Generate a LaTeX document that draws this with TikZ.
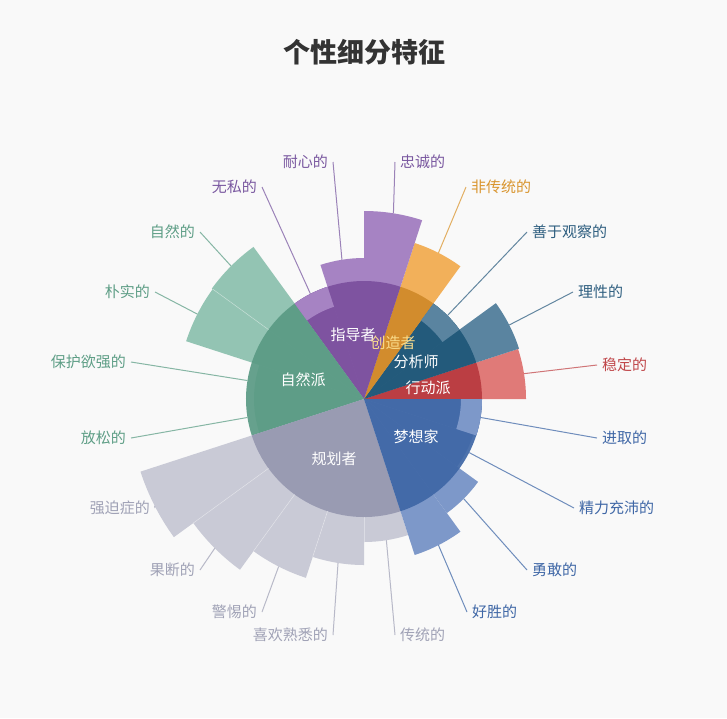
\documentclass[tikz,border=0pt]{standalone}
\usepackage{fontspec}
\usetikzlibrary{calc}
\setmainfont{Noto Sans CJK SC}
\begin{document}
\begin{tikzpicture}[x=1pt,y=-1pt,
  lab/.style={font=\fontsize{15}{15}\selectfont,inner sep=0pt},
  inlab/.style={font=\fontsize{15}{15}\selectfont,text=white,inner sep=0pt}]
\definecolor{bg}{HTML}{F9F9F9}
\definecolor{gP}{HTML}{5A9A84}\definecolor{gL}{HTML}{93C4B3}\definecolor{gT}{HTML}{5E9E86}
\definecolor{pP}{HTML}{7B4F9E}\definecolor{pL}{HTML}{A683C3}\definecolor{pT}{HTML}{7A58A0}
\definecolor{oP}{HTML}{D08A2A}\definecolor{oL}{HTML}{F2B05A}\definecolor{oT}{HTML}{D9952E}
\definecolor{tP}{HTML}{1F5778}\definecolor{tL}{HTML}{5A84A0}\definecolor{tT}{HTML}{2F5F80}
\definecolor{rP}{HTML}{B8393F}\definecolor{rL}{HTML}{E07A78}\definecolor{rT}{HTML}{C0474A}
\definecolor{bP}{HTML}{3F67A6}\definecolor{bL}{HTML}{7D98C9}\definecolor{bT}{HTML}{3F67A6}
\definecolor{sP}{HTML}{9597B0}\definecolor{sL}{HTML}{C9CAD6}\definecolor{sT}{HTML}{A0A2B6}
\fill[bg] (0,0) rectangle (727,718);
\useasboundingbox (0,0) rectangle (727,718);
\node[font=\bfseries\fontsize{27}{27}\selectfont,text=black!80] (title) at (364,52) {个性细分特征};
\coordinate (C) at (364,399);
\begin{scope}[shift={(364,399)},yscale=-1]
% leaves
\foreach \a/\r/\c in {0/162/rL,18/163/tL,36/118/tL,54/164/oL,72/188/pL,90/141/pL,108/118/pL,
  126/188/gL,144/187/gL,162/110/gL,180/110/gL,198/235/sL,216/211/sL,234/188/sL,252/166/sL,
  270/143/sL,288/164/bL,306/141/bL,324/115/bL,342/118/bL}
  \fill[\c] (0,0) -- (\a:\r) arc[start angle=\a,end angle=\a+18,radius=\r] -- cycle;
% parents
\foreach \a/\b/\c in {0/18/rP,18/54/tP,54/72/oP,72/126/pP,126/198/gP,198/288/sP,288/360/bP}
  \fill[\c,opacity=0.92] (0,0) -- (\a:118) arc[start angle=\a,end angle=\b,radius=118] -- cycle;
% light bands
\foreach \a/\c in {36/tL,108/pL,342/bL}
  \fill[\c] (\a:97) arc[start angle=\a,end angle=\a+18,radius=97] -- (\a+18:118)
    arc[start angle=\a+18,end angle=\a,radius=118] -- cycle;
% separators between leaves
\foreach \a/\r in {144/187,216/211,234/188,252/166,270/143}
  \draw[white,opacity=0.35,line width=0.6pt] (\a:118) -- (\a:\r);
\end{scope}
% labels
\foreach \n/\a/\r/\x/\y/\t/\c/\s/\d in {
 l1/9/162/597/365/稳定的/rT/west/5, l2/27/163/573/292/理性的/tT/west/5,
 l3/45/118/527/232/善于观察的/tT/west/5, l4/63/164/466/187/非传统的/oT/west/5,
 l5/81/188/395/162/忠诚的/pT/west/5, l6/99/141/333/162/耐心的/pT/east/-5,
 l7/117/118/262/187/无私的/pT/east/-5, l8/135/188/200/232/自然的/gT/east/-5,
 l9/153/187/155/292/朴实的/gT/east/-5, l10/171/118/131/362/保护欲强的/gT/east/-5,
 l11/189/118/131/438/放松的/gT/east/-5, l12/207/235/155/508/强迫症的/sT/east/-5,
 l13/225/211/200/570/果断的/sT/east/-5, l14/243/188/262/612/警惕的/sT/east/-5,
 l15/261/166/333/635/喜欢熟悉的/sT/east/-5, l16/279/143/395/635/传统的/sT/west/5,
 l17/297/164/467/612/好胜的/bT/west/5, l18/315/141/527/570/勇敢的/bT/west/5,
 l19/333/118/574/508/精力充沛的/bT/west/5, l20/351/118/597/438/进取的/bT/west/5}
{
 \coordinate (e\n) at ($(C)+({cos(\a)*\r},{-sin(\a)*\r})$);
 \coordinate (f\n) at (\x,\y);
 \draw[\c!75,line width=1pt] (e\n) -- (f\n);
 \node[lab,text=\c,anchor=\s] (\n) at ([xshift=\d pt]f\n) {\t};
}
% inner labels
\node[inlab] (p1) at (303,380) {自然派};
\node[inlab] (p2) at (353,335) {指导者};
\node[inlab,text={rgb,255:red,250;green,220;blue,140}] (p3) at (393,343) {创造者};
\node[inlab] (p4) at (416,362) {分析师};
\node[inlab] (p5) at (428,388) {行动派};
\node[inlab] (p6) at (416,437) {梦想家};
\node[inlab] (p7) at (334,459) {规划者};
\end{tikzpicture}
\end{document}
